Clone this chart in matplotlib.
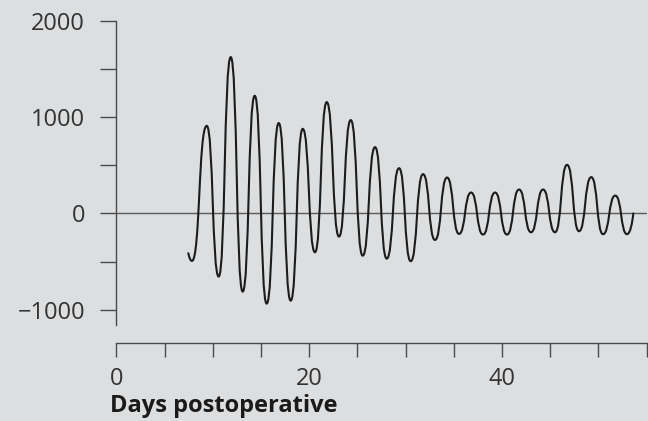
import numpy as np
import matplotlib
matplotlib.use('Agg')
import matplotlib.pyplot as plt
from matplotlib.path import Path
from matplotlib.patches import PathPatch

plt.rcParams['font.family'] = ['Open Sans', 'DejaVu Sans']

# extrema of the oscillating curve
start_day, start_val = 7.47, -414
trough_days = [7.85, 10.62, 13.11, 15.60, 18.09, 20.61, 23.10, 25.56, 28.05, 30.54,
               33.06, 35.55, 38.04, 40.53, 43.02, 45.51, 48.00, 50.49, 52.98]
trough_vals = [-494, -657, -813, -938, -907, -404, -241, -439, -470, -497,
               -276, -213, -220, -220, -196, -196, -185, -216, -216]
peak_days = [9.38, 11.87, 14.36, 16.85, 19.34, 21.83, 24.32, 26.84, 29.33,
             31.82, 34.31, 36.80, 39.29, 41.78, 44.27, 46.76, 49.27, 51.76]
peak_vals = [910, 1625, 1223, 939, 879, 1157, 970, 689, 470,
             408, 373, 217, 217, 248, 248, 505, 377, 185]
end_day, end_val = 53.63, 0

y_ticks = [-1000, -500, 0, 500, 1000, 1500, 2000]
y_labels = ['\u22121000', '', '0', '', '1000', '', '2000']
x_ticks = [0, 5, 10, 15, 20, 25, 30, 35, 40, 45, 50, 55]
x_labels = ['0', '', '', '', '20', '', '', '', '40', '', '', '']

bg = '#dcdee0'
ink = '#1c1c1c'
axis_col = '#4a4a4a'

# interleave extrema: start, T1, P1, T2, ..., P18, T19, end
xs = [start_day]
ys = [start_val]
for i in range(len(trough_days)):
    xs.append(trough_days[i]); ys.append(trough_vals[i])
    if i < len(peak_days):
        xs.append(peak_days[i]); ys.append(peak_vals[i])
xs.append(end_day); ys.append(end_val)

# cubic bezier segments, flat tangents at the extrema
verts = [(xs[0], ys[0])]
codes = [Path.MOVETO]
k = 0.55
n = len(xs)
for i in range(n - 1):
    x0, y0, x1, y1 = xs[i], ys[i], xs[i + 1], ys[i + 1]
    dx = x1 - x0
    if i == 0:
        c1 = (x0 + dx * 0.35, y0 + (y1 - y0) * 0.7)
        c2 = (x1 - dx * 0.4, y1)
    elif i == n - 2:
        c1 = (x0 + dx * 0.5, y0)
        c2 = (x1 - dx * 0.15, y1 - (y1 - y0) * 0.45)
    else:
        c1 = (x0 + k * dx, y0)
        c2 = (x1 - k * dx, y1)
    verts += [c1, c2, (x1, y1)]
    codes += [Path.CURVE4] * 3

fig = plt.figure(figsize=(6.48, 4.21), dpi=100, facecolor=bg)
ax = fig.add_axes([116.3 / 648, 1 - 325 / 421, (646.5 - 116.3) / 648, (325 - 21) / 421])
ax.set_facecolor(bg)

ax.axhline(0, color='#5a5a5a', lw=1.0, zorder=1)
ax.add_patch(PathPatch(Path(verts, codes), fill=False, edgecolor=ink, lw=1.5,
                       joinstyle='round', capstyle='round', zorder=3))

ax.set_xlim(0, 55)
ax.set_ylim(-1160, 2000)

for s in ['top', 'right']:
    ax.spines[s].set_visible(False)
ax.spines['left'].set_color(axis_col)
ax.spines['bottom'].set_color(axis_col)
ax.spines['left'].set_linewidth(1.0)
ax.spines['bottom'].set_linewidth(1.0)
ax.spines['bottom'].set_position(('outward', 12.7))

ax.set_yticks(y_ticks)
ax.set_yticklabels(y_labels)
ax.set_xticks(x_ticks)
ax.set_xticklabels(x_labels)
ax.tick_params(axis='y', direction='out', length=11.5, width=1.0, color=axis_col,
               pad=11, labelsize=17, labelcolor='#333333')
ax.tick_params(axis='x', direction='out', length=10, width=1.0, color=axis_col,
               pad=7.5, labelsize=17, labelcolor='#333333')

fig.text(110 / 648, 1 - 412.3 / 421, 'Days postoperative', fontsize=17,
         fontweight='bold', color='#1a1a1a', ha='left', va='baseline')

fig.savefig('out.png', dpi=100, facecolor=bg)
